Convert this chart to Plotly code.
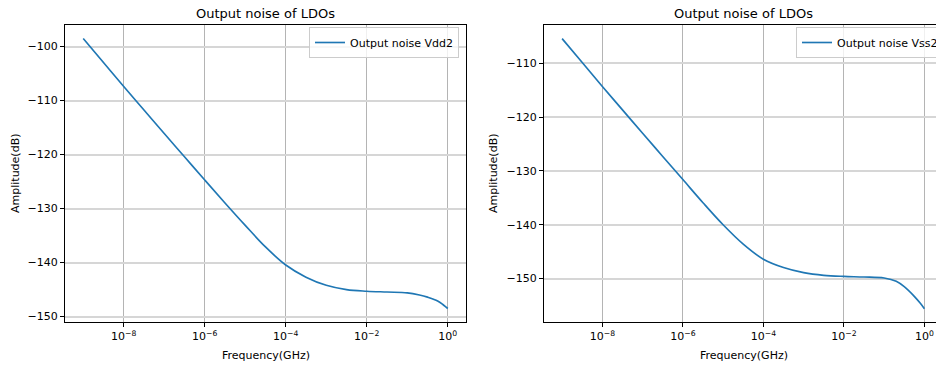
import plotly.graph_objects as go

W, H = 936, 365

# ---- data ----
freq_ghz = [1e-9, 3.16e-9, 1e-8, 3.16e-8, 1e-7, 3.16e-7, 1e-6, 3.16e-6, 1e-5, 3.16e-5,
            1e-4, 3.16e-4, 1e-3, 3.16e-3, 1e-2, 3.16e-2, 1e-1, 2e-1, 3.16e-1, 5.62e-1,
            7.94e-1, 1.0]
noise_vdd2 = [-98.5, -102.95, -107.4, -111.75, -116.1, -120.4, -124.7, -128.95, -133.1, -137.1,
              -140.45, -142.7, -144.2, -145.0, -145.3, -145.45, -145.6, -146.0, -146.4, -147.1,
              -147.9, -148.5]
noise_vss2 = [-105.4, -109.85, -114.3, -118.65, -123.0, -127.3, -131.6, -135.9, -140.0, -143.6,
              -146.4, -147.95, -148.9, -149.4, -149.6, -149.7, -149.9, -150.5, -151.5, -153.3,
              -154.6, -155.6]

x_tick_vals = [1e-8, 1e-6, 1e-4, 1e-2, 1e0]
x_tick_text = ["10<sup>−8</sup>", "10<sup>−6</sup>", "10<sup>−4</sup>", "10<sup>−2</sup>", "10<sup>0</sup>"]
y1_tick_vals = [-150, -140, -130, -120, -110, -100]
y1_tick_text = ["−150", "−140", "−130", "−120", "−110", "−100"]
y2_tick_vals = [-150, -140, -130, -120, -110]
y2_tick_text = ["−150", "−140", "−130", "−120", "−110"]

series_names = ["Output noise Vdd2", "Output noise Vss2"]
plot_title = "Output noise of LDOs"
x_label = "Frequency(GHz)"
y_label = "Amplitude(dB)"

FONT = "DejaVu Sans"
BLUE = "#1f77b4"


def px_x(p):
    return p / W


def px_y(p):
    return 1 - p / H


fig = go.Figure()
fig.add_trace(go.Scatter(x=freq_ghz, y=noise_vdd2, mode="lines", name=series_names[0],
                         line=dict(color=BLUE, width=1.65, shape="spline", smoothing=1.0),
                         xaxis="x", yaxis="y", legend="legend"))
fig.add_trace(go.Scatter(x=freq_ghz, y=noise_vss2, mode="lines", name=series_names[1],
                         line=dict(color=BLUE, width=1.65, shape="spline", smoothing=1.0),
                         xaxis="x2", yaxis="y2", legend="legend2"))

common_x = dict(type="log", showgrid=True, gridcolor="#b4b4b4", gridwidth=1,
                showline=True, linecolor="black", linewidth=1,
                ticks="outside", ticklen=4, tickwidth=1, tickcolor="black",
                tickvals=x_tick_vals, ticktext=x_tick_text,
                tickfont=dict(family=FONT, size=11, color="black"),
                zeroline=False, fixedrange=True)
common_y = dict(showgrid=True, gridcolor="#d6d6d6", gridwidth=2,
                showline=True, linecolor="black", linewidth=1,
                ticks="outside", ticklen=4, tickwidth=1, tickcolor="black",
                tickfont=dict(family=FONT, size=11, color="black"),
                zeroline=False, fixedrange=True)

ydom = [px_y(322), px_y(25)]

layout = dict(
    width=W, height=H,
    margin=dict(l=0, r=0, t=0, b=0, pad=0, autoexpand=False),
    paper_bgcolor="white", plot_bgcolor="white",
    font=dict(family=FONT, size=11, color="black"),
    xaxis=dict(common_x, domain=[px_x(65), px_x(466)], range=[-9.45, 0.45],
               mirror=True, anchor="y"),
    yaxis=dict(common_y, domain=ydom, range=[-151.0, -96.0],
               tickvals=y1_tick_vals, ticktext=y1_tick_text, mirror=True, anchor="x"),
    xaxis2=dict(common_x, domain=[px_x(544), 1.0], range=[-9.45, 0.289],
                mirror=True, anchor="y2"),
    yaxis2=dict(common_y, domain=ydom, range=[-158.07, -102.87],
                tickvals=y2_tick_vals, ticktext=y2_tick_text, mirror=False, anchor="x2"),
    legend=dict(x=px_x(459), xanchor="right", y=px_y(27), yanchor="top",
                bgcolor="rgba(255,255,255,0.8)", bordercolor="#cccccc", borderwidth=1,
                font=dict(family=FONT, size=11, color="black")),
    legend2=dict(x=px_x(796), xanchor="left", y=px_y(27), yanchor="top",
                 bgcolor="rgba(255,255,255,0.8)", bordercolor="#cccccc", borderwidth=1,
                 font=dict(family=FONT, size=11, color="black")),
    showlegend=True,
)

annotations = []
for cx, lx in [((65 + 466) / 2, 15.5), ((544 + 943) / 2, 493.5)]:
    annotations.append(dict(text=plot_title, x=px_x(cx), y=px_y(14), xref="paper", yref="paper",
                            xanchor="center", yanchor="middle", showarrow=False,
                            font=dict(family=FONT, size=13, color="black")))
    annotations.append(dict(text=x_label, x=px_x(cx), y=px_y(355.5),
                            xref="paper", yref="paper", xanchor="center", yanchor="middle",
                            showarrow=False, font=dict(family=FONT, size=11, color="black")))
    annotations.append(dict(text=y_label, x=px_x(lx), y=px_y(173.5), xref="paper", yref="paper",
                            xanchor="center", yanchor="middle", textangle=-90, showarrow=False,
                            font=dict(family=FONT, size=11, color="black")))
layout["annotations"] = annotations

fig.update_layout(**layout)
fig.write_html("out.html")
